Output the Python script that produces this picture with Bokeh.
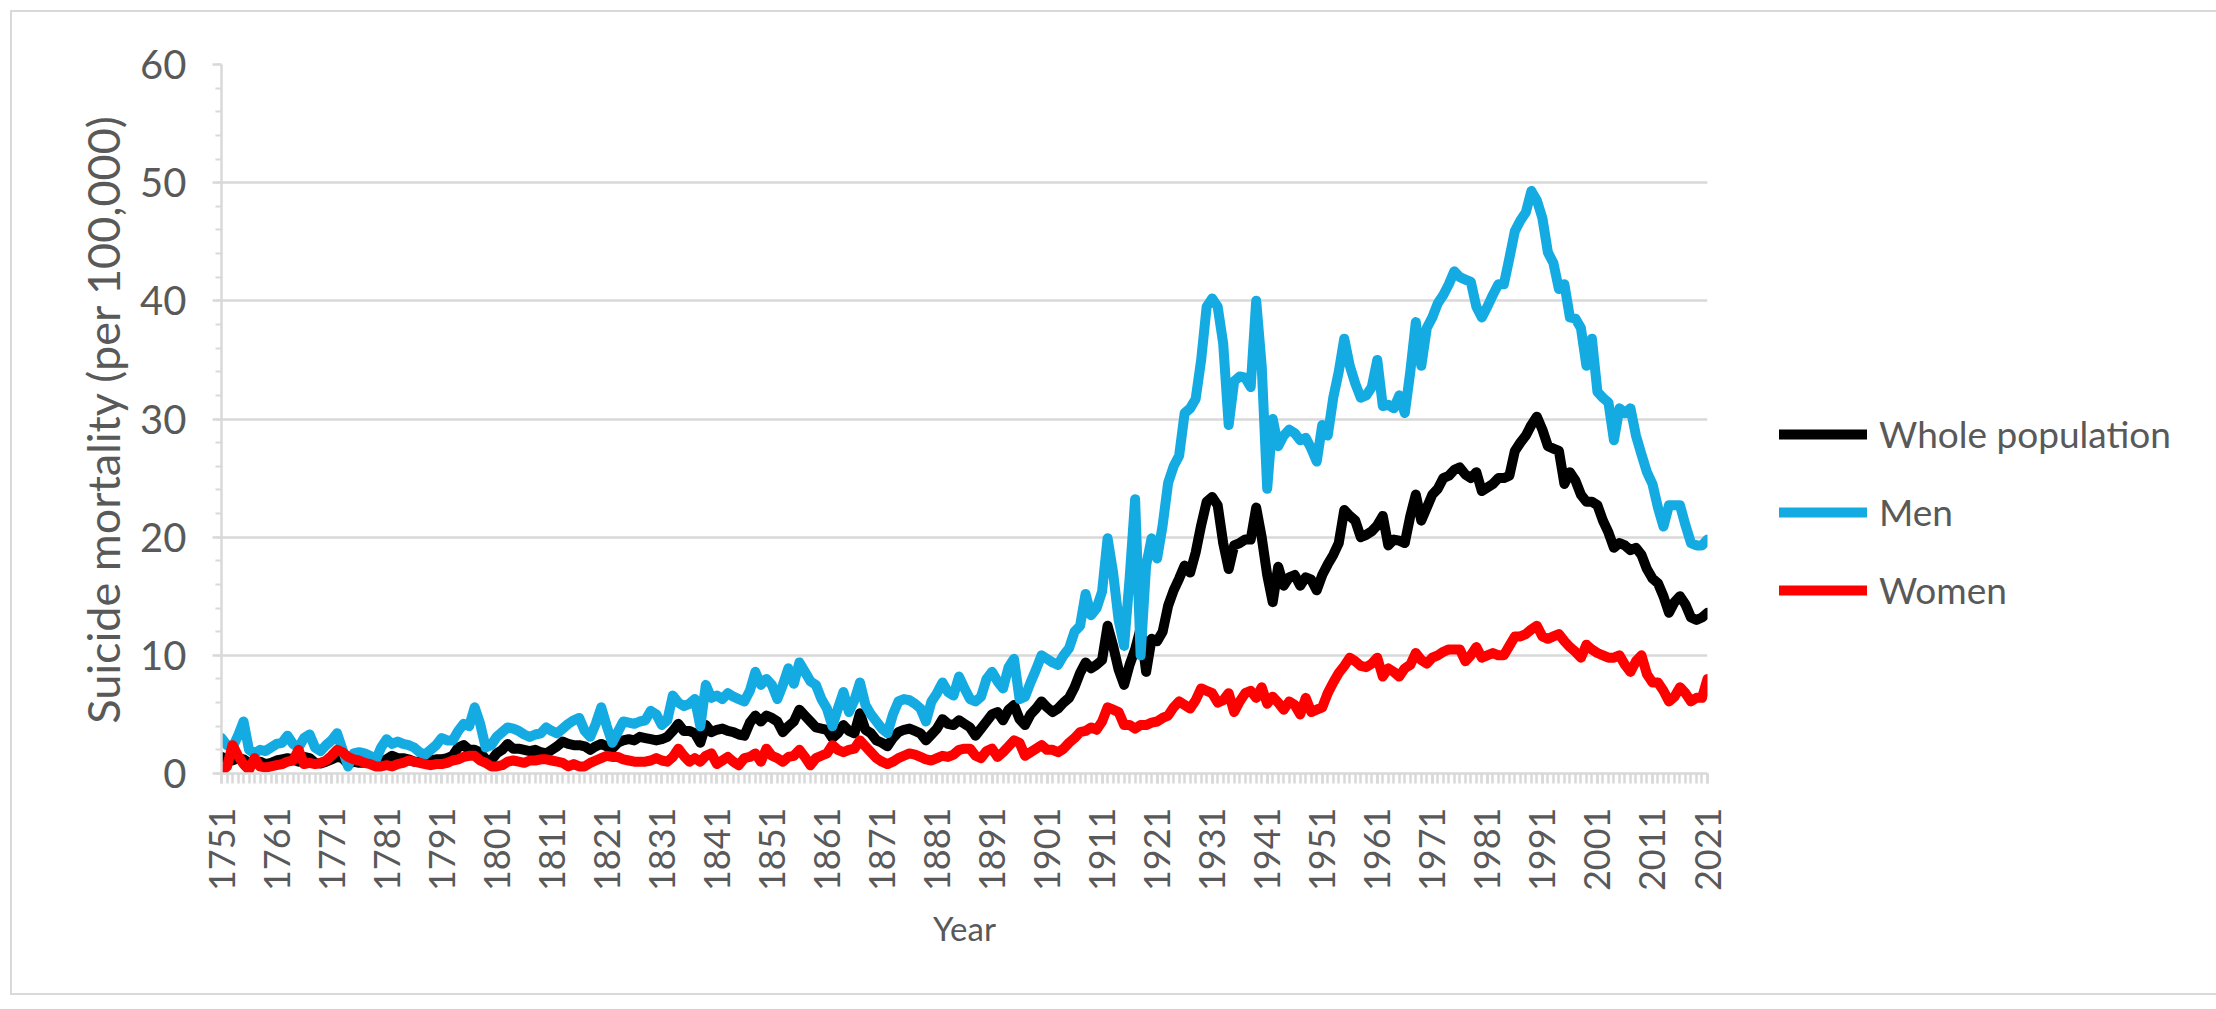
from bokeh.plotting import figure
from bokeh.models import FixedTicker, Range1d, Legend, LegendItem
from bokeh.embed import file_html
from bokeh.resources import INLINE
import math

# ---------------- data ----------------
years = list(range(1751, 2022))
tick_years = list(range(1751, 2022, 10))
y_ticks = [0, 10, 20, 30, 40, 50, 60]
y_minor = list(range(0, 61, 2))

whole = [
    # 1751-1760
    1.4, 1.2, 1.1, 1.3, 1.2, 0.9, 0.9, 1.0, 0.8, 0.9,
    # 1761-1770
    1.1, 1.2, 1.3, 1.2, 1.0, 1.4, 1.3, 0.9, 0.85, 1.0,
    # 1771-1780
    1.2, 1.4, 1.3, 0.8, 1.0, 0.9, 0.9, 1.2, 1.3, 1.0,
    # 1781-1790
    1.2, 1.5, 1.3, 1.3, 1.2, 1.0, 1.0, 1.0, 1.1, 1.2,
    # 1791-1800
    1.2, 1.3, 1.5, 2.2, 2.4, 2.0, 2.0, 1.8, 1.2, 1.1,
    # 1801-1810
    1.7, 2.0, 2.5, 2.1, 2.1, 2.0, 1.9, 2.0, 1.8, 1.7,
    # 1811-1820
    2.0, 2.3, 2.7, 2.5, 2.4, 2.4, 2.3, 2.0, 2.3, 2.5,
    # 1821-1830
    2.3, 2.1, 2.6, 2.8, 2.9, 2.8, 3.1, 3.0, 2.9, 2.8,
    # 1831-1840
    2.9, 3.1, 3.6, 4.2, 3.6, 3.6, 3.4, 2.6, 4.1, 3.5,
    # 1841-1850
    3.7, 3.8, 3.6, 3.5, 3.3, 3.2, 4.3, 4.9, 4.4, 4.9,
    # 1851-1860
    4.7, 4.4, 3.5, 4.0, 4.4, 5.4, 4.9, 4.4, 3.9, 3.8,
    # 1861-1870
    3.7, 3.0, 3.4, 4.1, 3.6, 3.4, 5.1, 3.7, 3.4, 2.8,
    # 1871-1880
    2.6, 2.3, 3.0, 3.5, 3.7, 3.8, 3.6, 3.4, 2.8, 3.3,
    # 1881-1890
    3.8, 4.6, 4.2, 4.1, 4.5, 4.2, 3.9, 3.2, 3.8, 4.4,
    # 1891-1900
    5.0, 5.2, 4.5, 5.4, 5.8, 4.6, 4.1, 5.0, 5.5, 6.1,
    # 1901-1910
    5.6, 5.2, 5.5, 6.0, 6.4, 7.3, 8.5, 9.4, 8.9, 9.2,
    # 1911-1920
    9.6, 12.5, 10.8, 8.8, 7.5, 9.2, 10.5, 12.3, 8.6, 11.4,
    # 1921-1930
    11.2, 12.0, 14.2, 15.5, 16.5, 17.6, 17.0, 18.7, 21.0, 23.0,
    # 1931-1940
    23.4, 22.7, 19.5, 17.3, 19.3, 19.5, 19.8, 19.8, 22.5, 20.0,
    # 1941-1950
    16.8, 14.5, 17.5, 15.9, 16.6, 16.8, 15.9, 16.6, 16.4, 15.5,
    # 1951-1960
    16.8, 17.7, 18.5, 19.5, 22.3, 21.8, 21.4, 20.0, 20.2, 20.5,
    # 1961-1970
    21.0, 21.8, 19.3, 19.8, 19.7, 19.5, 21.8, 23.6, 21.4, 22.5,
    # 1971-1980
    23.6, 24.1, 25.0, 25.2, 25.7, 25.9, 25.3, 25.0, 25.5, 23.9,
    # 1981-1990
    24.2, 24.5, 25.0, 25.0, 25.2, 27.3, 28.0, 28.6, 29.5, 30.2,
    # 1991-2000
    29.1, 27.7, 27.5, 27.3, 24.5, 25.5, 24.8, 23.6, 23.0, 23.0,
    # 2001-2010
    22.7, 21.4, 20.4, 19.1, 19.5, 19.3, 18.9, 19.1, 18.5, 17.3,
    # 2011-2020
    16.5, 16.1, 15.0, 13.6, 14.5, 15.0, 14.3, 13.2, 13.0, 13.2,
    # 2021
    13.6,
]

men = [
    # 1751-1760
    3.0, 2.4, 2.2, 3.2, 4.4, 2.0, 1.7, 2.0, 1.9, 2.2,
    # 1761-1770
    2.5, 2.6, 3.2, 2.5, 2.2, 3.0, 3.3, 2.2, 1.9, 2.4,
    # 1771-1780
    2.8, 3.4, 2.0, 0.6, 1.7, 1.8, 1.7, 1.5, 1.1, 2.2,
    # 1781-1790
    2.9, 2.5, 2.7, 2.5, 2.4, 2.2, 1.8, 1.6, 2.0, 2.4,
    # 1791-1800
    3.0, 2.8, 2.8, 3.6, 4.2, 4.0, 5.6, 4.2, 2.2, 2.4,
    # 1801-1810
    3.1, 3.5, 3.9, 3.8, 3.6, 3.3, 3.1, 3.3, 3.4, 3.9,
    # 1811-1820
    3.6, 3.4, 3.8, 4.2, 4.5, 4.7, 3.6, 3.1, 4.2, 5.6,
    # 1821-1830
    4.0, 2.6, 3.5, 4.4, 4.3, 4.2, 4.4, 4.5, 5.3, 5.0,
    # 1831-1840
    4.1, 4.5, 6.6, 6.0, 5.7, 5.9, 6.3, 4.0, 7.5, 6.4,
    # 1841-1850
    6.6, 6.3, 6.8, 6.5, 6.3, 6.1, 7.0, 8.6, 7.5, 8.0,
    # 1851-1860
    7.5, 6.3, 7.5, 8.9, 7.6, 9.4, 8.6, 7.8, 7.5, 6.3,
    # 1861-1870
    5.5, 4.0, 5.5, 6.9, 5.2, 6.2, 7.7, 5.8, 5.0, 4.4,
    # 1871-1880
    3.8, 3.4, 5.0, 6.1, 6.3, 6.2, 5.9, 5.5, 4.4, 6.1,
    # 1881-1890
    6.8, 7.7, 6.9, 6.6, 8.2, 7.2, 6.3, 6.1, 6.5, 8.0,
    # 1891-1900
    8.6, 7.8, 7.2, 9.0, 9.7, 6.3, 6.5, 7.7, 8.8, 10.0,
    # 1901-1910
    9.7, 9.4, 9.2, 10.0, 10.6, 12.0, 12.5, 15.2, 13.4, 14.0,
    # 1911-1920
    15.4, 19.9, 17.0, 13.0, 10.8, 16.5, 23.2, 10.0, 17.6, 19.9,
    # 1921-1930
    18.2, 21.0, 24.6, 26.0, 26.9, 30.5, 30.9, 31.7, 35.0, 39.5,
    # 1931-1940
    40.2, 39.5, 36.4, 29.5, 33.2, 33.6, 33.5, 32.7, 40.0, 34.5,
    # 1941-1950
    24.1, 30.0, 27.7, 28.6, 29.1, 28.8, 28.2, 28.4, 27.5, 26.4,
    # 1951-1960
    29.5, 28.6, 31.8, 34.0, 36.8, 34.5, 33.0, 31.8, 32.0, 32.7,
    # 1961-1970
    35.0, 31.1, 31.2, 30.9, 32.0, 30.5, 34.0, 38.2, 34.5, 37.7,
    # 1971-1980
    38.6, 39.8, 40.5, 41.4, 42.5, 42.0, 41.8, 41.6, 39.5, 38.6,
    # 1981-1990
    39.5, 40.5, 41.4, 41.4, 43.6, 45.9, 46.8, 47.5, 49.3, 48.5,
    # 1991-2000
    47.0, 44.1, 43.2, 41.0, 41.4, 38.6, 38.5, 37.7, 34.5, 36.8,
    # 2001-2010
    32.3, 31.8, 31.4, 28.2, 30.9, 30.5, 30.9, 28.6, 27.0, 25.5,
    # 2011-2020
    24.5, 22.5, 20.9, 22.7, 22.7, 22.7, 21.0, 19.5, 19.3, 19.3,
    # 2021
    19.8,
]

women = [
    # 1751-1760
    0.2, 0.6, 2.4, 1.5, 0.8, 0.3, 1.3, 0.6, 0.5, 0.6,
    # 1761-1770
    0.7, 0.8, 1.0, 1.1, 2.0, 0.8, 0.9, 0.8, 0.9, 1.1,
    # 1771-1780
    1.5, 2.0, 1.8, 1.4, 1.2, 1.1, 0.9, 0.8, 0.6, 0.6,
    # 1781-1790
    0.7, 0.6, 0.8, 0.9, 1.1, 1.0, 0.9, 0.8, 0.7, 0.8,
    # 1791-1800
    0.8, 0.9, 1.1, 1.2, 1.4, 1.5, 1.5, 1.1, 0.9, 0.6,
    # 1801-1810
    0.6, 0.7, 1.0, 1.1, 1.0, 0.9, 1.1, 1.1, 1.2, 1.2,
    # 1811-1820
    1.1, 1.0, 0.9, 0.6, 0.8, 0.6, 0.6, 0.9, 1.1, 1.3,
    # 1821-1830
    1.5, 1.4, 1.4, 1.2, 1.1, 1.0, 1.0, 1.0, 1.1, 1.3,
    # 1831-1840
    1.1, 1.0, 1.4, 2.1, 1.5, 1.0, 1.3, 1.0, 1.5, 1.7,
    # 1841-1850
    0.8, 1.1, 1.4, 1.0, 0.7, 1.3, 1.4, 1.7, 1.0, 2.1,
    # 1851-1860
    1.5, 1.3, 1.0, 1.4, 1.5, 2.0, 1.4, 0.7, 1.3, 1.5,
    # 1861-1870
    1.7, 2.4, 2.0, 1.8, 2.0, 2.1, 2.8, 2.3, 1.8, 1.3,
    # 1871-1880
    1.0, 0.8, 1.0, 1.3, 1.5, 1.7, 1.6, 1.4, 1.2, 1.1,
    # 1881-1890
    1.3, 1.5, 1.4, 1.6, 2.0, 2.1, 2.1, 1.5, 1.3, 1.9,
    # 1891-1900
    2.1, 1.4, 1.8, 2.3, 2.8, 2.6, 1.5, 1.8, 2.1, 2.4,
    # 1901-1910
    2.0, 2.0, 1.8, 2.1, 2.6, 3.0, 3.5, 3.6, 3.9, 3.7,
    # 1911-1920
    4.4, 5.6, 5.4, 5.2, 4.1, 4.1, 3.8, 4.1, 4.1, 4.3,
    # 1921-1930
    4.4, 4.7, 4.9, 5.6, 6.1, 5.8, 5.5, 6.2, 7.2, 7.0,
    # 1931-1940
    6.8, 6.0, 6.2, 6.8, 5.2, 6.1, 6.8, 7.0, 6.4, 7.3,
    # 1941-1950
    5.9, 6.5, 6.0, 5.4, 6.1, 5.8, 5.0, 6.4, 5.2, 5.4,
    # 1951-1960
    5.6, 6.8, 7.7, 8.5, 9.1, 9.8, 9.5, 9.1, 9.0, 9.3,
    # 1961-1970
    9.8, 8.2, 8.9, 8.6, 8.2, 8.9, 9.2, 10.2, 9.6, 9.3,
    # 1971-1980
    9.8, 10.0, 10.3, 10.5, 10.5, 10.5, 9.5, 10.0, 10.7, 9.8,
    # 1981-1990
    10.0, 10.2, 10.0, 10.0, 10.8, 11.6, 11.6, 11.8, 12.2, 12.5,
    # 1991-2000
    11.6, 11.4, 11.6, 11.8, 11.2, 10.7, 10.3, 9.8, 10.9, 10.5,
    # 2001-2010
    10.2, 10.0, 9.8, 9.8, 10.0, 9.2, 8.6, 9.5, 10.0, 8.4,
    # 2011-2020
    7.7, 7.7, 7.0, 6.1, 6.5, 7.3, 6.8, 6.1, 6.4, 6.4,
    # 2021
    8.0,
]

series_names = ["Whole population", "Men", "Women"]
series_colors = ["#000000", "#14ABE3", "#FF0000"]

# ---------------- styling ----------------
FONT = "Lato"
GREY_TEXT = "#595959"
GREY_LINE = "#d9d9d9"

p = figure(
    frame_width=1486, frame_height=709,
    x_range=Range1d(1751, 2021), y_range=Range1d(0, 60),
    output_backend="svg", toolbar_location=None,
    min_border_left=221, min_border_right=509,
    min_border_top=64, min_border_bottom=232,
    background_fill_color="white",
)
# transparent outer canvas so the chart-area outline of the host shows
p.border_fill_color = None
p.styles = {"outline": "2px solid #d9d9d9", "outline-offset": "-12px",
            "background-color": "white"}
p.outline_line_color = None
p.xgrid.visible = False
p.ygrid.grid_line_color = GREY_LINE
p.ygrid.grid_line_width = 2.5

# x axis
xa = p.xaxis[0]
xa.ticker = FixedTicker(ticks=tick_years, minor_ticks=years)
xa.axis_line_color = GREY_LINE
xa.axis_line_width = 2.5
xa.major_tick_line_color = GREY_LINE
xa.minor_tick_line_color = GREY_LINE
xa.major_tick_line_width = 2.5
xa.minor_tick_line_width = 2.5
xa.major_tick_in = 0
xa.minor_tick_in = 0
xa.major_tick_out = 10
xa.minor_tick_out = 10
xa.major_label_orientation = math.pi / 2
xa.major_label_standoff = 24
xa.major_label_text_font = FONT
xa.major_label_text_font_size = "36px"
xa.major_label_text_color = GREY_TEXT
xa.axis_label = "Year"
xa.axis_label_text_font = FONT
xa.axis_label_text_font_size = "33px"
xa.axis_label_text_font_style = "normal"
xa.axis_label_text_color = GREY_TEXT
xa.axis_label_standoff = 14

# y axis
ya = p.yaxis[0]
ya.ticker = FixedTicker(ticks=y_ticks, minor_ticks=y_minor)
ya.axis_line_color = GREY_LINE
ya.axis_line_width = 2.5
ya.major_tick_line_color = GREY_LINE
ya.minor_tick_line_color = GREY_LINE
ya.major_tick_line_width = 2.5
ya.minor_tick_line_width = 2
ya.major_tick_in = 0
ya.minor_tick_in = 0
ya.major_tick_out = 9
ya.minor_tick_out = 6
ya.major_label_standoff = 26
ya.major_label_text_font = FONT
ya.major_label_text_font_size = "40px"
ya.major_label_text_color = GREY_TEXT
ya.axis_label = "Suicide mortality (per 100,000)"
ya.axis_label_text_font = FONT
ya.axis_label_text_font_size = "45px"
ya.axis_label_text_font_style = "normal"
ya.axis_label_text_color = GREY_TEXT
ya.axis_label_standoff = 7

# lines
renderers = []
for name, vals, col in zip(series_names, [whole, men, women], series_colors):
    r = p.line(years, vals, line_color=col, line_width=10,
               line_join="round", line_cap="round")
    renderers.append(r)

legend = Legend(
    items=[LegendItem(label=n, renderers=[r]) for n, r in zip(series_names, renderers)],
    location=(72, 161), orientation="vertical",
    glyph_width=88, glyph_height=40, label_height=40,
    label_standoff=12, spacing=33, padding=0, margin=0,
    border_line_color=None, background_fill_alpha=0,
    label_text_font=FONT, label_text_font_size="37px",
    label_text_color=GREY_TEXT,
)
p.add_layout(legend, "right")

open("out.html", "w").write(file_html(p, INLINE))
